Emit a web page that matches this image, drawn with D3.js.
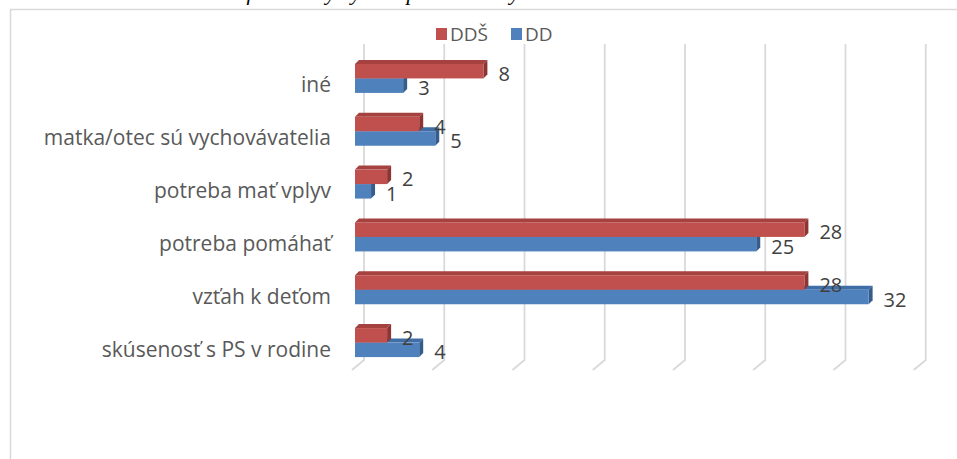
<!DOCTYPE html>
<html>
<head>
<meta charset="utf-8">
<script src="https://cdn.jsdelivr.net/npm/d3@7"></script>
<style>
  body { margin: 0; background: #ffffff; }
  svg { display: block; }
</style>
</head>
<body>
<script>
// categories from bottom to top (same order as the excel sheet)
var categories = ["skúsenosť s PS v rodine", "vzťah k deťom", "potreba pomáhať", "potreba mať vplyv", "matka/otec sú vychovávatelia", "iné"];

// series values
var seriesNames = ["DDŠ", "DD"];
var valuesDDS = [2, 28, 28, 2, 4, 8];
var valuesDD = [4, 32, 25, 1, 5, 3];

// value axis ticks (only gridlines are shown)
var ticks = [0, 5, 10, 15, 20, 25, 30, 35];

var W = 957;
var H = 459;

// colors (front, top, side)
var redColors = ["#c0504d", "#a5413e", "#8c3533"];
var blueColors = ["#4f81bd", "#3f6ea6", "#345c8c"];

// 3d offsets
var depth = 4;
var floorDx = 12;
var floorDy = 10;
var wallDx = 9;

var svg = d3.select("body").append("svg").attr("width", W).attr("height", H);

// title of the figure, cut off at the top (only the descenders show)
svg.append("text")
  .attr("x", 478).attr("y", 0)
  .attr("text-anchor", "middle")
  .attr("font-family", "Liberation Serif").attr("font-style", "italic")
  .attr("font-size", 22).attr("fill", "#000")
  .text("Graf 5 Motívy výberu povolania vychovávateľa v DD a DDŠ");

// chart border
svg.append("rect")
  .attr("x", 10.5).attr("y", 9.5).attr("width", 1000).attr("height", 600)
  .attr("fill", "none").attr("stroke", "#d9d9d9").attr("stroke-width", 1.5);

// scales
var x = d3.scaleLinear().domain([0, 35]).range([355, 355 + 16.05 * 35]);
var y = d3.scaleBand().domain(categories).range([369, 52]);
var barH = 14.5;

// gridlines on the back wall and the floor
var grid = svg.append("g");
ticks.forEach(function (t) {
  var bx = x(t) + wallDx;
  grid.append("path")
    .attr("d", "M" + bx + ",44 L" + bx + ",360 L" + (bx - floorDx) + "," + (360 + floorDy))
    .attr("fill", "none").attr("stroke", "#d9d9d9").attr("stroke-width", 1.8);
});

// draw a 3d bar
function bar3d(g, x0, x1, yTop, h, cols) {
  g.append("path")
    .attr("d", "M" + x0 + "," + yTop + " L" + (x0 + depth) + "," + (yTop - depth) + " L" + (x1 + depth) + "," + (yTop - depth) + " L" + x1 + "," + yTop + "Z")
    .attr("fill", cols[1]);
  g.append("path")
    .attr("d", "M" + x1 + "," + yTop + " L" + (x1 + depth) + "," + (yTop - depth) + " L" + (x1 + depth) + "," + (yTop + h - depth) + " L" + x1 + "," + (yTop + h) + "Z")
    .attr("fill", cols[2]);
  g.append("rect")
    .attr("x", x0).attr("y", yTop).attr("width", x1 - x0).attr("height", h)
    .attr("fill", cols[0]);
}

var bars = svg.append("g");
var labels = svg.append("g").attr("font-family", "Open Sans").attr("fill", "#404040");

categories.forEach(function (c, i) {
  var cy = y(c) + y.bandwidth() / 2;
  // blue first so the red one covers its top face
  bar3d(bars, x(0), x(valuesDD[i]), cy, barH, blueColors);
  bar3d(bars, x(0), x(valuesDDS[i]), cy - barH, barH, redColors);

  labels.append("text")
    .attr("x", x(valuesDDS[i]) + 15).attr("y", cy - barH / 2 + 2)
    .attr("dominant-baseline", "central").attr("font-size", 20)
    .text(valuesDDS[i]);
  labels.append("text")
    .attr("x", x(valuesDD[i]) + 15).attr("y", cy + barH / 2 + 2)
    .attr("dominant-baseline", "central").attr("font-size", 20)
    .text(valuesDD[i]);

  // category label
  svg.append("text")
    .attr("x", 331).attr("y", cy + 6)
    .attr("text-anchor", "end").attr("dominant-baseline", "central")
    .attr("font-family", "Open Sans").attr("font-size", 21).attr("fill", "#595959")
    .text(c);
});

// legend
var legend = svg.append("g").attr("font-family", "Open Sans").attr("font-size", 19).attr("fill", "#595959");
var legendX = [436, 511];
var legendCols = [redColors[0], blueColors[0]];
seriesNames.forEach(function (s, i) {
  legend.append("rect").attr("x", legendX[i]).attr("y", 28).attr("width", 11).attr("height", 12).attr("fill", legendCols[i]);
  legend.append("text").attr("x", legendX[i] + 14).attr("y", 34).attr("dominant-baseline", "central").text(s);
});
</script>
</body>
</html>
